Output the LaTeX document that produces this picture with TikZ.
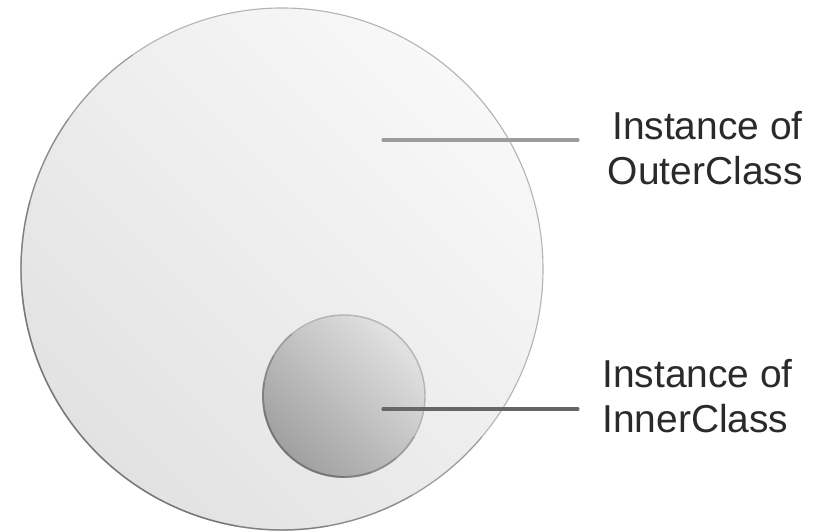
\documentclass[tikz,border=0pt]{standalone}
\usepackage{fontspec}
\setmainfont{Liberation Sans}
\usepackage{tkz-euclide}
\usetikzlibrary{calc}

\definecolor{rimlight}{HTML}{B4B4B4}
\definecolor{rimdark}{HTML}{606060}
\definecolor{outerhi}{HTML}{F8F8F8}
\definecolor{outerlo}{HTML}{E2E2E2}
\definecolor{innerhi}{HTML}{E2E2E2}
\definecolor{innerlo}{HTML}{A0A0A0}
\definecolor{pinlight}{HTML}{9C9C9C}
\definecolor{pindark}{HTML}{666666}
\definecolor{labelgray}{HTML}{2A2A2A}

\tikzset{
  lbl/.style={inner sep=0pt,text=labelgray,
    font=\fontsize{27.7}{32}\selectfont},
  rim/.style={rimdark,line width=#1,opacity=0.28},
}

\begin{document}
\begin{tikzpicture}
\useasboundingbox (0,0) rectangle (20.425,13.3);
\tkzSetUpLine[line width=1pt,color=rimlight]

\tkzDefPoints{7.05/6.575/O, 7.05/13.1/A}
\tkzDefPoints{8.6/3.4/I, 8.6/5.425/J}

% pins (inside the circles) and free ends near the labels
\tkzDefPoints{9.575/9.8/P, 14.45/9.8/Q}
\tkzDefPoints{9.575/3.075/R, 14.45/3.075/S}

% outer instance
\tkzDrawCircle[top color=outerhi,bottom color=outerlo,shading angle=-45,
  draw=rimlight,line width=0.8pt](O,A)
\foreach \s/\e in {125/320,145/300,165/280,185/260}
  \draw[rim=1pt] (O) ++(\s:6.525) arc[start angle=\s,end angle=\e,radius=6.525];

% inner instance
\tkzDrawCircle[top color=innerhi,bottom color=innerlo,shading angle=-45,
  draw=rimlight,line width=1pt](I,J)
\foreach \s/\e in {130/330,150/310,170/290,190/270}
  \draw[rim=1.3pt] (I) ++(\s:2.025) arc[start angle=\s,end angle=\e,radius=2.025];

\tkzDrawSegments[line width=2.2pt,color=pinlight](P,Q)
\tkzDrawSegments[line width=2.2pt,color=pindark](R,S)

\node[lbl,anchor=north east,align=right] (outerlbl) at (20.075,10.52) {Instance of\\OuterClass};
\node[lbl,anchor=north west,align=left] (innerlbl) at (15.05,4.32) {Instance of\\InnerClass};

\end{tikzpicture}
\end{document}
